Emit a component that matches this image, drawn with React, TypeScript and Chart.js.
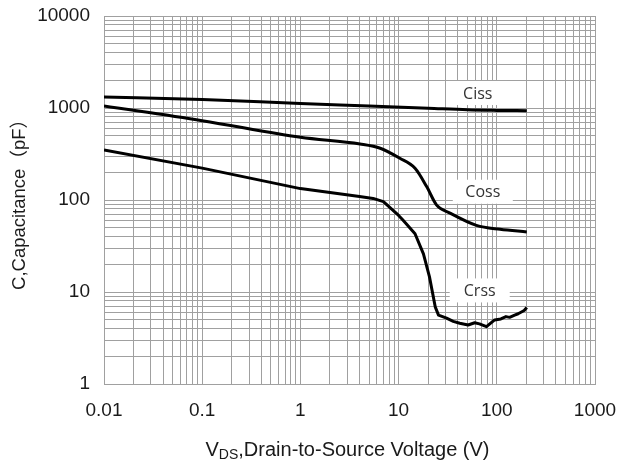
import React, { useEffect, useRef } from "react";
import { Chart, registerables } from "chart.js";

Chart.register(...registerables);

// ---- data ----
const cissX = [0.01, 0.1, 1, 5, 20, 50, 100, 202];
const cissY = [1320, 1240, 1120, 1052, 994, 955, 942, 935];

const cossX = [0.01, 0.1, 1, 4.05, 6.5, 10.3, 14.7, 19.3, 24.4, 33.4, 62, 108, 202];
const cossY = [1050, 728, 480, 406, 365, 284, 221, 140, 88, 72, 53, 48, 45];

const crssX = [0.01, 0.1, 1, 4, 5.5, 7, 10, 11, 14.7, 17.9, 20.6, 23.6, 25.5, 30.8, 36, 42, 51, 59.6, 66.6, 78.5, 95, 110, 124, 135, 152, 165, 180, 190, 202];
const crssY = [350, 222, 133, 109, 104, 96, 68, 61, 43, 26, 14.7, 6.9, 5.6, 5.2, 4.8, 4.57, 4.38, 4.63, 4.5, 4.2, 4.97, 5.1, 5.4, 5.3, 5.6, 5.8, 6.1, 6.3, 6.8];

const seriesNames = ["Ciss", "Coss", "Crss"];

const xTickLabels = ["0.01", "0.1", "1", "10", "100", "1000"];
const xDecades = [0.01, 0.1, 1, 10, 100, 1000];
const yTickLabels = ["1", "10", "100", "1000", "10000"];
const yDecades = [1, 10, 100, 1000, 10000];

const xTitleMain = "V";
const xTitleSub = "DS";
const xTitleRest = ",Drain-to-Source Voltage (V)";
const yTitle = "C,Capacitance\uFF08pF\uFF09";

// label anchors (data coordinates)
const labelAnchorX = [64, 72, 67];
const labelAnchorY = [1456, 123, 10.4];

function minorTicks(decades: number[]) {
  const out: number[] = [];
  for (let i = 0; i < decades.length; i++) {
    const d = decades[i];
    if (i === decades.length - 1) {
      out.push(d);
    } else {
      for (let m = 1; m <= 9; m++) out.push(+(d * m).toPrecision(6));
    }
  }
  return out;
}

function pts(xs: number[], ys: number[]) {
  return xs.map((x, i) => ({ x, y: ys[i] }));
}

const FONT = "'Liberation Sans', Arial, 'Noto Sans CJK SC', sans-serif";
const GRID = "#a0a0a0";

const textPlugin = {
  id: "textPlugin",
  afterDatasetsDraw(chart: any) {
    const ctx = chart.ctx;
    const xs = chart.scales.x;
    const ys = chart.scales.y;
    ctx.save();
    ctx.font = "16px 'Open Sans', 'Liberation Sans', sans-serif";
    ctx.textAlign = "center";
    ctx.textBaseline = "middle";
    for (let i = 0; i < seriesNames.length; i++) {
      const px = xs.getPixelForValue(labelAnchorX[i]);
      const py = ys.getPixelForValue(labelAnchorY[i]);
      const w = 60;
      const h = 24;
      ctx.fillStyle = "#ffffff";
      ctx.fillRect(px - w / 2, py - h / 2, w, h);
      ctx.fillStyle = "#333333";
      ctx.fillText(seriesNames[i], px, py + 1);
    }
    ctx.restore();
  },
  afterDraw(chart: any) {
    const ctx = chart.ctx;
    const area = chart.chartArea;
    ctx.save();
    ctx.fillStyle = "#1a1a1a";
    const big = "20px " + FONT;
    const small = "14px " + FONT;
    ctx.font = big;
    const wMain = ctx.measureText(xTitleMain).width;
    const wRest = ctx.measureText(xTitleRest).width;
    ctx.font = small;
    const wSub = ctx.measureText(xTitleSub).width;
    const total = wMain + wSub + wRest;
    const cx = (area.left + area.right) / 2 - 2;
    let x0 = cx - total / 2;
    const base = 456;
    ctx.textAlign = "left";
    ctx.textBaseline = "alphabetic";
    ctx.font = big;
    ctx.fillText(xTitleMain, x0, base);
    x0 += wMain;
    ctx.font = small;
    ctx.fillText(xTitleSub, x0, base + 3);
    x0 += wSub;
    ctx.font = big;
    ctx.fillText(xTitleRest, x0, base);
    ctx.translate(20, (area.top + area.bottom) / 2);
    ctx.rotate(-Math.PI / 2);
    ctx.textAlign = "center";
    ctx.textBaseline = "middle";
    ctx.font = "18.5px " + FONT;
    ctx.fillText(yTitle, 0, 0);
    ctx.restore();
  },
};

function decadeLabel(v: number, decades: number[], labels: string[]) {
  for (let i = 0; i < decades.length; i++) {
    if (Math.abs(v - decades[i]) / decades[i] < 1e-6) return labels[i];
  }
  return "";
}

export default function App() {
  const ref = useRef<HTMLCanvasElement>(null);
  useEffect(() => {
    if (!ref.current) return;
    const xTicks = minorTicks(xDecades);
    const yTicks = minorTicks(yDecades);
    const line = (data: any, mode: string) => ({
      data,
      showLine: true,
      borderColor: "#000000",
      borderWidth: 3,
      pointRadius: 0,
      fill: false,
      cubicInterpolationMode: mode,
      borderJoinStyle: "round",
    });
    const chart = new Chart(ref.current, {
      type: "scatter",
      data: {
        datasets: [
          { label: seriesNames[0], ...line(pts(cissX, cissY), "monotone") },
          { label: seriesNames[1], ...line(pts(cossX, cossY), "monotone") },
          { label: seriesNames[2], ...line(pts(crssX, crssY), "default") },
        ],
      } as any,
      options: {
        responsive: false,
        animation: false,
        layout: { padding: { top: 16, right: 22, left: 0, bottom: 0 } },
        plugins: { legend: { display: false }, tooltip: { enabled: false } },
        scales: {
          x: {
            type: "logarithmic",
            min: 0.01,
            max: 1000,
            afterBuildTicks: (s: any) => {
              s.ticks = xTicks.map((v) => ({ value: v }));
            },
            afterFit: (s: any) => {
              s.height = 81;
              s.paddingLeft = 0;
              s.paddingRight = 0;
            },
            grid: { color: GRID, lineWidth: 1, drawTicks: false },
            border: { display: true, color: GRID },
            ticks: {
              autoSkip: false,
              maxRotation: 0,
              padding: 15,
              color: "#1a1a1a",
              font: { family: FONT, size: 19 },
              callback: (v: any) => decadeLabel(Number(v), xDecades, xTickLabels),
            },
          },
          y: {
            type: "logarithmic",
            min: 1,
            max: 10000,
            afterBuildTicks: (s: any) => {
              s.ticks = yTicks.map((v) => ({ value: v }));
            },
            afterFit: (s: any) => {
              s.width = 104;
              s.paddingTop = 0;
              s.paddingBottom = 0;
            },
            grid: { color: GRID, lineWidth: 1, drawTicks: false },
            border: { display: true, color: GRID },
            ticks: {
              autoSkip: false,
              padding: 14,
              color: "#1a1a1a",
              font: { family: FONT, size: 19 },
              callback: (v: any) => decadeLabel(Number(v), yDecades, yTickLabels),
            },
          },
        },
      } as any,
      plugins: [textPlugin],
    });
    return () => chart.destroy();
  }, []);
  return (
    <div style={{ position: "absolute", left: 0, top: 0, width: 617, height: 465, background: "#fff" }}>
      <canvas ref={ref} width={617} height={465} />
    </div>
  );
}
